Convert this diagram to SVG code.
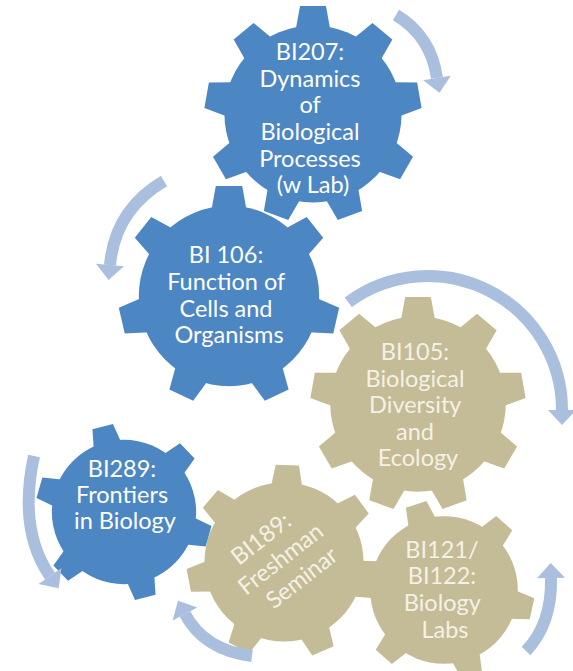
<svg xmlns="http://www.w3.org/2000/svg" xmlns:xlink="http://www.w3.org/1999/xlink" width="573" height="671" viewBox="0 0 573 671">
  <style>
    .blue { fill: #4c86c3; }
    .tan { fill: #c4bc96; }
    .label { font-family: Lato, "Open Sans", "Liberation Sans", sans-serif; font-size: 23.5px; text-anchor: middle; }
    .on-blue { fill: #ffffff; }
    .on-tan { fill: #f4f1e6; }
    .band { fill: none; stroke: #a9bfdd; stroke-width: 12; stroke-linecap: butt; }
    .head { fill: #a9bfdd; }
  </style>
  <defs>
    <!-- one tooth of a gear of outer radius 100, pointing up -->
    <path id="tooth" d="M-16,-78 L-12,-100 L12,-100 L16,-78 Z"/>
  </defs>
  <rect width="573" height="671" fill="#ffffff"/>

  <!-- tan gears -->
  <g id="gear-bi105">
    <g class="tan" transform="translate(418,404) scale(1.07)">
      <circle r="82"/>
      <use xlink:href="#tooth"/>
      <use xlink:href="#tooth" transform="rotate(40)"/>
      <use xlink:href="#tooth" transform="rotate(80)"/>
      <use xlink:href="#tooth" transform="rotate(120)"/>
      <use xlink:href="#tooth" transform="rotate(160)"/>
      <use xlink:href="#tooth" transform="rotate(200)"/>
      <use xlink:href="#tooth" transform="rotate(240)"/>
      <use xlink:href="#tooth" transform="rotate(280)"/>
      <use xlink:href="#tooth" transform="rotate(320)"/>
    </g>
    <text class="label on-tan">
      <tspan x="418" y="360">BI105:</tspan>
      <tspan x="418" y="387">Biological</tspan>
      <tspan x="418" y="413">Diversity</tspan>
      <tspan x="418" y="440">and</tspan>
      <tspan x="418" y="466">Ecology</tspan>
    </text>
  </g>

  <g id="gear-bi189">
    <g class="tan" transform="translate(284,562) scale(0.97)">
      <circle r="82"/>
      <use xlink:href="#tooth" transform="rotate(2)"/>
      <use xlink:href="#tooth" transform="rotate(53.4)"/>
      <use xlink:href="#tooth" transform="rotate(104.9)"/>
      <use xlink:href="#tooth" transform="rotate(156.3)"/>
      <use xlink:href="#tooth" transform="rotate(207.7)"/>
      <use xlink:href="#tooth" transform="rotate(259.1)"/>
      <use xlink:href="#tooth" transform="rotate(310.6)"/>
    </g>
    <text class="label on-tan" transform="translate(283,557) rotate(-38)">
      <tspan x="-3" y="-20">BI189:</tspan>
      <tspan x="0" y="8">Freshman</tspan>
      <tspan x="2" y="36">Seminar</tspan>
    </text>
  </g>

  <g id="gear-bi121">
    <g class="tan" transform="translate(444,590) scale(0.9)">
      <circle r="82"/>
      <use xlink:href="#tooth" transform="rotate(-18)"/>
      <use xlink:href="#tooth" transform="rotate(42)"/>
      <use xlink:href="#tooth" transform="rotate(102)"/>
      <use xlink:href="#tooth" transform="rotate(162)"/>
      <use xlink:href="#tooth" transform="rotate(222)"/>
      <use xlink:href="#tooth" transform="rotate(282)"/>
    </g>
    <text class="label on-tan">
      <tspan x="445" y="558">BI121/</tspan>
      <tspan x="445" y="584">BI122:</tspan>
      <tspan x="445" y="611">Biology</tspan>
      <tspan x="445" y="638">Labs</tspan>
    </text>
  </g>

  <!-- blue gears -->
  <g id="gear-bi207">
    <g class="blue" transform="translate(313,114) scale(1.08)">
      <circle r="82"/>
      <use xlink:href="#tooth"/>
      <use xlink:href="#tooth" transform="rotate(40)"/>
      <use xlink:href="#tooth" transform="rotate(80)"/>
      <use xlink:href="#tooth" transform="rotate(120)"/>
      <use xlink:href="#tooth" transform="rotate(160)"/>
      <use xlink:href="#tooth" transform="rotate(200)"/>
      <use xlink:href="#tooth" transform="rotate(240)"/>
      <use xlink:href="#tooth" transform="rotate(280)"/>
      <use xlink:href="#tooth" transform="rotate(320)"/>
    </g>
    <text class="label on-blue">
      <tspan x="313" y="60">BI207:</tspan>
      <tspan x="313" y="87">Dynamics</tspan>
      <tspan x="313" y="113">of</tspan>
      <tspan x="313" y="140">Biological</tspan>
      <tspan x="313" y="167">Processes</tspan>
      <tspan x="313" y="193">(w Lab)</tspan>
    </text>
  </g>

  <g id="gear-bi106">
    <g class="blue" transform="translate(229,296) scale(1.1)">
      <circle r="82"/>
      <use xlink:href="#tooth"/>
      <use xlink:href="#tooth" transform="rotate(51.4)"/>
      <use xlink:href="#tooth" transform="rotate(102.9)"/>
      <use xlink:href="#tooth" transform="rotate(154.3)"/>
      <use xlink:href="#tooth" transform="rotate(205.7)"/>
      <use xlink:href="#tooth" transform="rotate(257.1)"/>
      <use xlink:href="#tooth" transform="rotate(308.6)"/>
    </g>
    <text class="label on-blue">
      <tspan x="229" y="263">BI 106:</tspan>
      <tspan x="229" y="290">Function of</tspan>
      <tspan x="229" y="317">Cells and</tspan>
      <tspan x="229" y="343">Organisms</tspan>
    </text>
  </g>

  <g id="gear-bi289">
    <g class="blue" transform="translate(124,512) scale(0.88)">
      <circle r="82"/>
      <use xlink:href="#tooth" transform="rotate(-14)"/>
      <use xlink:href="#tooth" transform="rotate(46)"/>
      <use xlink:href="#tooth" transform="rotate(106)"/>
      <use xlink:href="#tooth" transform="rotate(166)"/>
      <use xlink:href="#tooth" transform="rotate(226)"/>
      <use xlink:href="#tooth" transform="rotate(286)"/>
    </g>
    <text class="label on-blue">
      <tspan x="125" y="477">BI289:</tspan>
      <tspan x="125" y="503">Frontiers</tspan>
      <tspan x="125" y="529">in Biology</tspan>
    </text>
  </g>

  <!-- turning arrows -->
  <g id="connectors">
    <path class="band" d="M396,15 Q431,36 437,78"/>
    <polygon class="head" points="450.8,75.7 423.2,80.3 439.5,92.8"/>

    <path class="band" d="M164,181 Q115,210 110,265"/>
    <polygon class="head" points="124,266.3 96,263.7 108.6,280"/>

    <path class="band" d="M348.3,302.3 A134,134 0 0 1 562,410"/>
    <polygon class="head" points="576,410 548,410 562,425"/>

    <path class="band" d="M34,456 Q18,530 50,576"/>
    <polygon class="head" points="61.5,568 38.5,584 58.6,588.3"/>

    <path class="band" d="M252,656 Q204,650 185,614"/>
    <polygon class="head" points="197.4,607.5 172.6,620.5 178,600.7"/>

    <path class="band" d="M526,651 Q552,624 551,578"/>
    <polygon class="head" points="565,577.7 537,578.3 550.7,563"/>
  </g>
</svg>
